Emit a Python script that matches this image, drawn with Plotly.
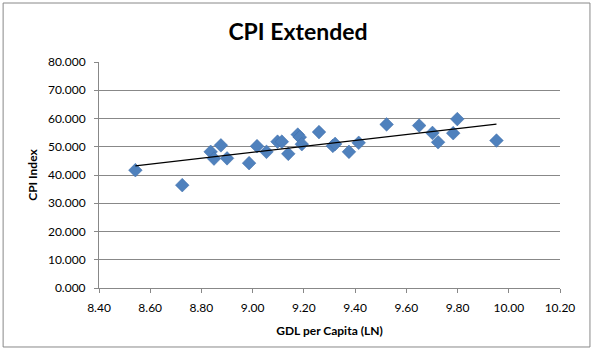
import numpy as np
import plotly.graph_objects as go

gdl_ln = [8.542, 8.725, 8.836, 8.849, 8.876, 8.900, 8.986, 9.017, 9.054, 9.097,
          9.114, 9.139, 9.176, 9.184, 9.192, 9.259, 9.313, 9.322, 9.376, 9.414,
          9.523, 9.650, 9.702, 9.724, 9.783, 9.799, 9.952]
cpi_index = [41.7, 36.4, 48.2, 45.8, 50.5, 45.9, 44.2, 50.2, 48.2, 51.8,
             51.8, 47.5, 54.3, 53.4, 50.9, 55.2, 50.3, 51.0, 48.2, 51.4,
             57.9, 57.5, 54.9, 51.6, 54.8, 59.8, 52.2]

x_ticks = [8.40, 8.60, 8.80, 9.00, 9.20, 9.40, 9.60, 9.80, 10.00, 10.20]
y_ticks = [0, 10, 20, 30, 40, 50, 60, 70, 80]

xa = np.array(gdl_ln)
ya = np.array(cpi_index)
slope, intercept = np.polyfit(xa, ya, 1)
trend_x = [xa.min(), xa.max()]
trend_y = [slope * v + intercept for v in trend_x]

fig = go.Figure()
fig.add_trace(go.Scatter(
    x=gdl_ln, y=cpi_index, mode="markers",
    marker=dict(symbol="diamond", size=10.5, color="#4F81BD",
                line=dict(width=0.5, color="#3E6DA8")),
    showlegend=False, hoverinfo="skip"))
fig.add_trace(go.Scatter(
    x=trend_x, y=trend_y, mode="lines",
    line=dict(color="black", width=1.2),
    showlegend=False, hoverinfo="skip"))

font_family = "Lato, 'Open Sans', 'DejaVu Sans', sans-serif"

fig.update_layout(
    width=596, height=360,
    margin=dict(l=99, r=36, t=62, b=72),
    paper_bgcolor="white", plot_bgcolor="white",
    font=dict(family=font_family, size=11, color="black"),
    title=dict(text="<b>CPI Extended</b>", x=0.5, xanchor="center",
               y=0.91, yanchor="middle",
               font=dict(family=font_family, size=23, color="black")),
    xaxis=dict(
        range=[8.40, 10.20], tickvals=x_ticks,
        ticktext=[f"{v:.2f}" for v in x_ticks],
        showgrid=False, zeroline=False,
        showline=True, linecolor="#888888", linewidth=1,
        ticks="outside", ticklen=4, tickcolor="#888888",
        ticklabelstandoff=5,
        tickfont=dict(size=12),
        title=dict(text="<b>GDL per Capita (LN)</b>", font=dict(size=12), standoff=12),
    ),
    yaxis=dict(
        range=[0, 80], tickvals=y_ticks,
        ticktext=[f"{v:.3f}" for v in y_ticks],
        showgrid=True, gridcolor="#888888", gridwidth=1,
        zeroline=False,
        showline=True, linecolor="#888888", linewidth=1,
        ticks="outside", ticklen=4, tickcolor="#888888",
        ticklabelstandoff=6,
        tickfont=dict(size=12),
        title=dict(text="<b>CPI Index</b>", font=dict(size=12), standoff=7),
    ),
    shapes=[dict(type="rect", xref="paper", yref="paper",
                 x0=-0.208, x1=1.065, y0=-0.261, y1=1.261,
                 line=dict(color="#888888", width=1), layer="below")],
)

fig.write_html("out.html",
               config={"displayModeBar": False},
               post_script="document.body.style.margin='0';document.body.style.padding='0';")
